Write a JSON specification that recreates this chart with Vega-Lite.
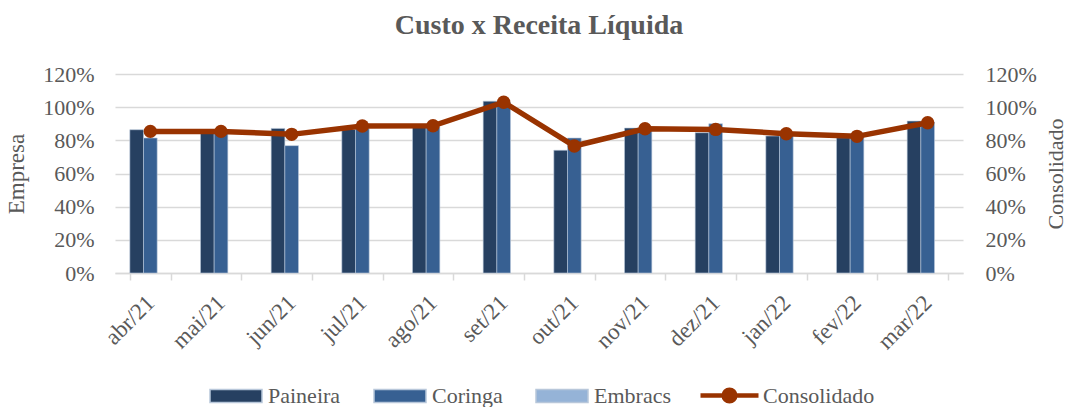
{
  "$schema": "https://vega.github.io/schema/vega-lite/v6.json",
  "autosize": {"type": "none"},
  "width": 848,
  "height": 199,
  "padding": {"left": 115, "top": 74, "right": 105, "bottom": 134},
  "background": "white",
  "title": {"text": "Custo x Receita Líquida", "font": "Liberation Serif", "fontSize": 28, "fontWeight": "bold", "color": "#595959", "anchor": "middle", "offset": 23},
  "config": {
    "view": {"stroke": null},
    "font": "Liberation Serif",
    "axis": {"labelFont": "Liberation Serif", "titleFont": "Liberation Serif", "labelColor": "#595959", "titleColor": "#595959", "labelFontSize": 22, "titleFontSize": 23, "titleFontWeight": "normal"},
    "legend": {"labelFont": "Liberation Serif", "labelFontSize": 22, "labelColor": "#595959", "labelOffset": 5, "columnPadding": 30, "title": null}
  },
  "data": {"values": [
    {"mes": "abr/21", "serie": "Paineira", "valor": 0.864},
    {"mes": "abr/21", "serie": "Coringa", "valor": 0.814},
    {"mes": "abr/21", "serie": "Embracs", "valor": null},
    {"mes": "abr/21", "serie": "Consolidado", "valor": 0.854},
    {"mes": "mai/21", "serie": "Paineira", "valor": 0.855},
    {"mes": "mai/21", "serie": "Coringa", "valor": 0.85},
    {"mes": "mai/21", "serie": "Embracs", "valor": null},
    {"mes": "mai/21", "serie": "Consolidado", "valor": 0.854},
    {"mes": "jun/21", "serie": "Paineira", "valor": 0.872},
    {"mes": "jun/21", "serie": "Coringa", "valor": 0.768},
    {"mes": "jun/21", "serie": "Embracs", "valor": null},
    {"mes": "jun/21", "serie": "Consolidado", "valor": 0.836},
    {"mes": "jul/21", "serie": "Paineira", "valor": 0.866},
    {"mes": "jul/21", "serie": "Coringa", "valor": 0.87},
    {"mes": "jul/21", "serie": "Embracs", "valor": null},
    {"mes": "jul/21", "serie": "Consolidado", "valor": 0.886},
    {"mes": "ago/21", "serie": "Paineira", "valor": 0.88},
    {"mes": "ago/21", "serie": "Coringa", "valor": 0.88},
    {"mes": "ago/21", "serie": "Embracs", "valor": null},
    {"mes": "ago/21", "serie": "Consolidado", "valor": 0.888},
    {"mes": "set/21", "serie": "Paineira", "valor": 1.036},
    {"mes": "set/21", "serie": "Coringa", "valor": 1.03},
    {"mes": "set/21", "serie": "Embracs", "valor": null},
    {"mes": "set/21", "serie": "Consolidado", "valor": 1.03},
    {"mes": "out/21", "serie": "Paineira", "valor": 0.74},
    {"mes": "out/21", "serie": "Coringa", "valor": 0.814},
    {"mes": "out/21", "serie": "Embracs", "valor": null},
    {"mes": "out/21", "serie": "Consolidado", "valor": 0.766},
    {"mes": "nov/21", "serie": "Paineira", "valor": 0.874},
    {"mes": "nov/21", "serie": "Coringa", "valor": 0.87},
    {"mes": "nov/21", "serie": "Embracs", "valor": null},
    {"mes": "nov/21", "serie": "Consolidado", "valor": 0.87},
    {"mes": "dez/21", "serie": "Paineira", "valor": 0.846},
    {"mes": "dez/21", "serie": "Coringa", "valor": 0.9},
    {"mes": "dez/21", "serie": "Embracs", "valor": null},
    {"mes": "dez/21", "serie": "Consolidado", "valor": 0.866},
    {"mes": "jan/22", "serie": "Paineira", "valor": 0.826},
    {"mes": "jan/22", "serie": "Coringa", "valor": 0.84},
    {"mes": "jan/22", "serie": "Embracs", "valor": null},
    {"mes": "jan/22", "serie": "Consolidado", "valor": 0.84},
    {"mes": "fev/22", "serie": "Paineira", "valor": 0.816},
    {"mes": "fev/22", "serie": "Coringa", "valor": 0.82},
    {"mes": "fev/22", "serie": "Embracs", "valor": null},
    {"mes": "fev/22", "serie": "Consolidado", "valor": 0.824},
    {"mes": "mar/22", "serie": "Paineira", "valor": 0.916},
    {"mes": "mar/22", "serie": "Coringa", "valor": 0.91},
    {"mes": "mar/22", "serie": "Embracs", "valor": null},
    {"mes": "mar/22", "serie": "Consolidado", "valor": 0.906}
  ]},
  "layer": [
    {
      "transform": [{"filter": "datum.serie !== 'Consolidado'"}],
      "mark": {"type": "bar", "stroke": "#b8c7da", "strokeWidth": 0.6},
      "encoding": {
        "x": {"field": "mes", "type": "nominal", "sort": ["abr/21","mai/21","jun/21","jul/21","ago/21","set/21","out/21","nov/21","dez/21","jan/22","fev/22","mar/22"],
              "scale": {"paddingInner": 0.42, "paddingOuter": 0.21},
              "axis": {"title": null, "labelAngle": -45, "labelAlign": "right", "labelBaseline": "middle", "labelFontSize": 23, "labelPadding": 19, "tickBand": "extent", "tickSize": 7, "tickColor": "#d9d9d9", "tickWidth": 1.5, "domainColor": "#d9d9d9", "domainWidth": 1.5, "grid": false}},
        "xOffset": {"field": "serie", "type": "nominal", "scale": {"domain": ["Paineira", "Coringa", "Embracs"]}},
        "y": {"field": "valor", "type": "quantitative", "scale": {"domain": [0, 1.2]},
              "axis": {"title": "Empresa", "orient": "left", "format": ".0%", "values": [0, 0.2, 0.4, 0.6, 0.8, 1.0, 1.2], "domain": false, "ticks": false, "labelPadding": 21, "grid": true, "gridColor": "#d9d9d9", "gridWidth": 1.5, "titlePadding": 14}},
        "color": {"field": "serie", "type": "nominal",
                  "scale": {"domain": ["Paineira", "Coringa", "Embracs"], "range": ["#264061", "#376092", "#95b3d7"]},
                  "legend": {"orient": "none", "direction": "horizontal", "legendX": 94, "legendY": 295, "symbolSize": 2704, "symbolType": "M-1,-0.25L1,-0.25L1,0.25L-1,0.25Z"}}
      }
    },
    {
      "transform": [{"filter": "datum.serie === 'Consolidado'"}],
      "mark": {"type": "line", "strokeWidth": 5.5},
      "encoding": {
        "x": {"field": "mes", "type": "nominal", "sort": ["abr/21","mai/21","jun/21","jul/21","ago/21","set/21","out/21","nov/21","dez/21","jan/22","fev/22","mar/22"]},
        "y": {"field": "valor", "type": "quantitative", "scale": {"domain": [0, 1.2]},
              "axis": {"title": "Consolidado", "orient": "right", "titleAngle": 270, "titleFontSize": 22, "format": ".0%", "values": [0, 0.2, 0.4, 0.6, 0.8, 1.0, 1.2], "domain": false, "ticks": false, "labelPadding": 22, "grid": false, "titlePadding": 31}},
        "stroke": {"field": "serie", "type": "nominal",
                   "scale": {"domain": ["Consolidado"], "range": ["#993300"]},
                   "legend": {"orient": "none", "direction": "horizontal", "legendX": 583, "legendY": 290, "labelOffset": 2, "symbolSize": 3364, "symbolStrokeWidth": 4.5, "symbolFillColor": "#993300", "symbolType": "M-1,0L1,0M-0.2,0A0.2,0.2 0 1,1 0.2,0A0.2,0.2 0 1,1 -0.2,0Z"}}
      }
    },
    {
      "transform": [{"filter": "datum.serie === 'Consolidado'"}],
      "mark": {"type": "point", "filled": true, "size": 180, "color": "#993300", "opacity": 1},
      "encoding": {
        "x": {"field": "mes", "type": "nominal", "sort": ["abr/21","mai/21","jun/21","jul/21","ago/21","set/21","out/21","nov/21","dez/21","jan/22","fev/22","mar/22"]},
        "y": {"field": "valor", "type": "quantitative", "scale": {"domain": [0, 1.2]}, "axis": null}
      }
    }
  ],
  "resolve": {"scale": {"y": "independent"}}
}
